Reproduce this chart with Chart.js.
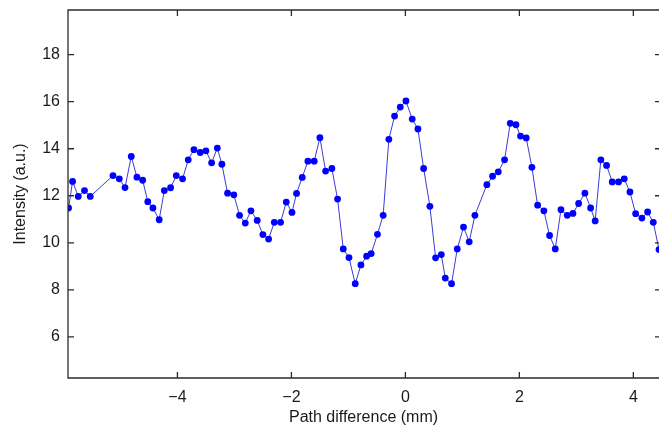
<!DOCTYPE html>
<html>
<head>
<meta charset="utf-8">
<script src="https://cdn.jsdelivr.net/npm/chart.js@4/dist/chart.umd.min.js"></script>
<style>
  html, body { margin: 0; background: #fff; overflow: hidden; }
  #wrap { width: 663px; height: 427px; position: relative; }
</style>
</head>
<body>
<div id="wrap"><canvas id="interfChart"></canvas></div>
<script>
const pathDiff = [
  -5.91, -5.84, -5.74, -5.63, -5.53, -5.13, -5.02, -4.92, -4.81, -4.71,
  -4.61, -4.52, -4.43, -4.32, -4.23, -4.12, -4.02, -3.91, -3.81, -3.71,
  -3.60, -3.50, -3.40, -3.30, -3.22, -3.12, -3.01, -2.91, -2.81, -2.71,
  -2.60, -2.50, -2.40, -2.30, -2.19, -2.09, -1.99, -1.91, -1.81, -1.71,
  -1.60, -1.50, -1.40, -1.29, -1.19, -1.09, -0.99, -0.88, -0.78, -0.68,
  -0.60, -0.49, -0.39, -0.29, -0.19, -0.09, 0.01, 0.12, 0.22, 0.32,
  0.43, 0.53, 0.63, 0.70, 0.81, 0.91, 1.02, 1.12, 1.22, 1.43,
  1.53, 1.63, 1.74, 1.84, 1.94, 2.02, 2.12, 2.22, 2.32, 2.43,
  2.53, 2.63, 2.73, 2.84, 2.94, 3.04, 3.15, 3.25, 3.33, 3.43,
  3.53, 3.63, 3.74, 3.84, 3.94, 4.04, 4.15, 4.25, 4.35, 4.45
];
const intensity = [
  11.48, 12.61, 11.97, 12.22, 11.97, 12.86, 12.72, 12.35, 13.67, 12.79,
  12.66, 11.75, 11.48, 10.98, 12.22, 12.34, 12.86, 12.72, 13.53, 13.96,
  13.84, 13.91, 13.40, 14.03, 13.34, 12.11, 12.04, 11.17, 10.84, 11.36,
  10.95, 10.35, 10.16, 10.87, 10.87, 11.73, 11.29, 12.10, 12.78, 13.47,
  13.47, 14.47, 13.05, 13.16, 11.86, 9.74, 9.37, 8.26, 9.06, 9.43,
  9.54, 10.36, 11.17, 14.40, 15.39, 15.77, 16.03, 15.26, 14.84, 13.16,
  11.55, 9.36, 9.50, 8.50, 8.26, 9.74, 10.67, 10.04, 11.17, 12.47,
  12.83, 13.02, 13.53, 15.08, 15.02, 14.54, 14.46, 13.21, 11.60, 11.36,
  10.31, 9.74, 11.41, 11.17, 11.25, 11.67, 12.11, 11.48, 10.93, 13.53,
  13.29, 12.59, 12.59, 12.72, 12.16, 11.24, 11.05, 11.31, 10.87, 9.71
];

const font = { family: '"Liberation Sans", Arial, Helvetica, sans-serif', size: 16 };
const minusFmt = v => (v < 0 ? '\u2212' + Math.abs(v) : String(v));

// matlab-like box with inward tick marks
const frame = {
  id: 'frame',
  afterDatasetsDraw(chart) {
    const { ctx, chartArea: a, scales: { x, y } } = chart;
    ctx.save();
    ctx.strokeStyle = '#2b2b2b';
    ctx.lineWidth = 1.3;
    ctx.beginPath();
    ctx.moveTo(a.right + 4, a.top);
    ctx.lineTo(a.left, a.top);
    ctx.lineTo(a.left, a.bottom);
    ctx.lineTo(a.right + 4, a.bottom);
    x.ticks.forEach(t => {
      const px = x.getPixelForValue(t.value);
      ctx.moveTo(px, a.bottom); ctx.lineTo(px, a.bottom - 6);
      ctx.moveTo(px, a.top); ctx.lineTo(px, a.top + 6);
    });
    y.ticks.forEach(t => {
      const py = y.getPixelForValue(t.value);
      ctx.moveTo(a.left, py); ctx.lineTo(a.left + 6, py);
      ctx.moveTo(a.right + 4, py); ctx.lineTo(a.right - 4, py);
    });
    ctx.stroke();
    ctx.restore();
  }
};

const ctx = document.getElementById('interfChart').getContext('2d');
new Chart(ctx, {
  type: 'line',
  data: {
    datasets: [{
      data: pathDiff.map((x, i) => ({ x, y: intensity[i] })),
      borderColor: '#3b3bd6',
      borderWidth: 1,
      backgroundColor: '#0000ff',
      pointBackgroundColor: '#0000ff',
      pointBorderColor: '#0000ff',
      pointRadius: 3.4,
      pointBorderWidth: 0,
      tension: 0
    }]
  },
  options: {
    responsive: true,
    maintainAspectRatio: false,
    animation: false,
    layout: { padding: { top: 10, right: 0, left: 0, bottom: 0 } },
    plugins: {
      legend: { display: false },
      tooltip: { enabled: false }
    },
    scales: {
      x: {
        type: 'linear',
        min: -5.92,
        max: 4.45,
        grid: { display: false, drawTicks: false },
        border: { display: false },
        ticks: { stepSize: 2, includeBounds: false, padding: 10, color: '#1a1a1a', font, callback: minusFmt, maxRotation: 0 },
        title: { display: true, text: 'Path difference (mm)', color: '#1a1a1a', font, padding: { top: 0, bottom: 0 } },
        afterFit: s => { s.height = 49; s.paddingLeft = 0; s.paddingRight = 0; }
      },
      y: {
        min: 4.25,
        max: 19.9,
        grid: { display: false, drawTicks: false },
        border: { display: false },
        ticks: { stepSize: 2, includeBounds: false, padding: 8, color: '#1a1a1a', font },
        title: { display: true, text: 'Intensity (a.u.)', color: '#1a1a1a', font, padding: { top: 11, bottom: 0 } },
        afterFit: s => { s.width = 68; s.paddingTop = 0; s.paddingBottom = 0; }
      }
    }
  },
  plugins: [frame]
});
</script>
</body>
</html>
